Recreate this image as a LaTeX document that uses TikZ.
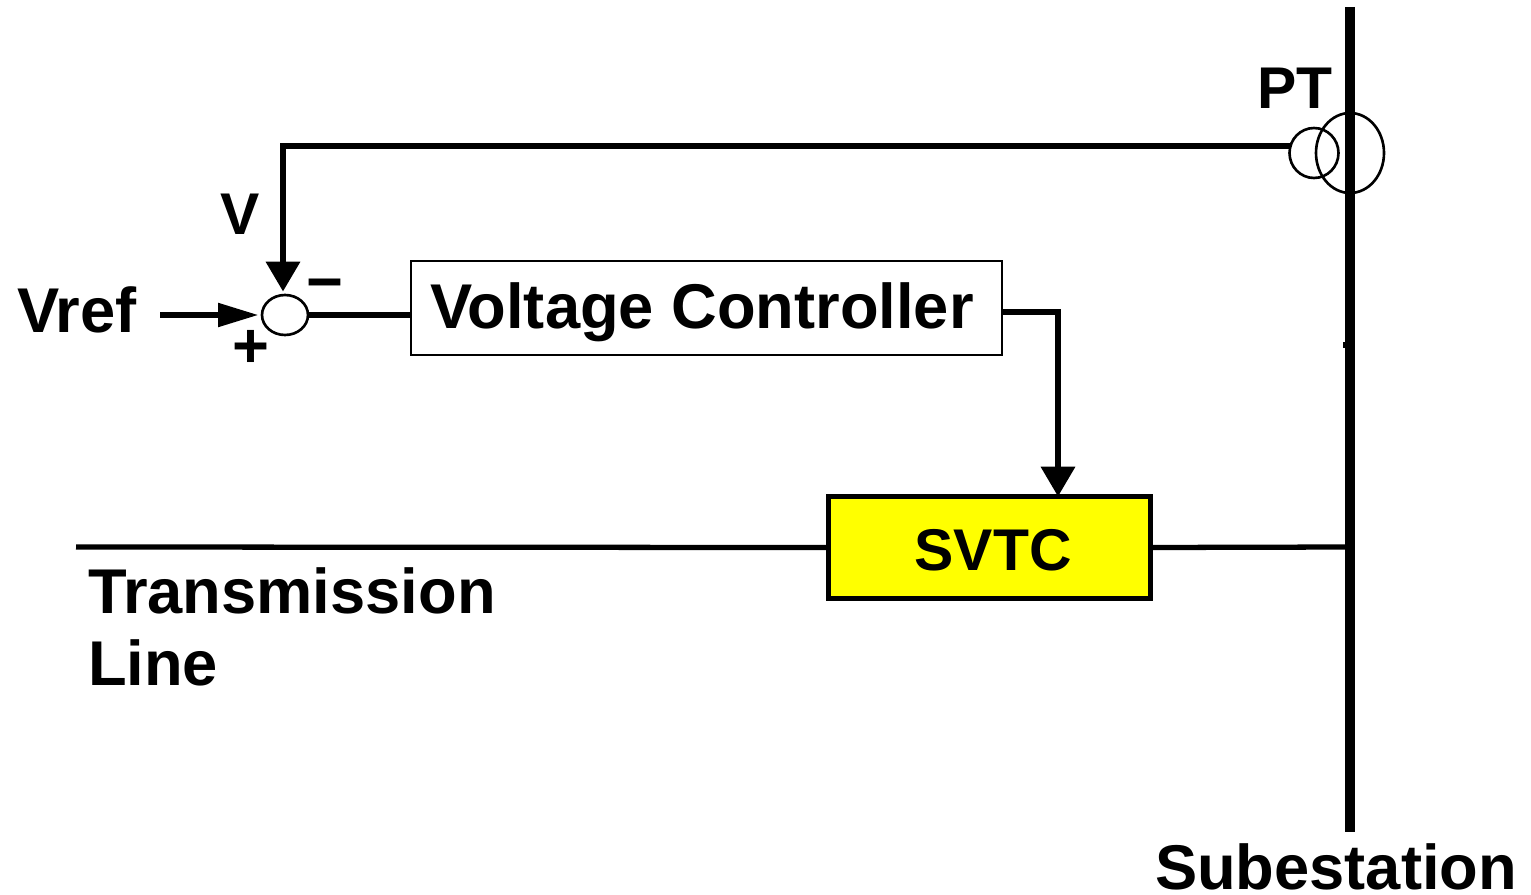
\documentclass[tikz,border=0pt]{standalone}
\usepackage{fontspec}
\setmainfont{Liberation Sans}
\usepackage{xcolor}
\usepackage{tikz}
\usetikzlibrary{arrows.meta,shapes.geometric}
\definecolor{ink}{HTML}{000000}
\definecolor{svtcfill}{HTML}{FFFF00}

\begin{document}
\begin{tikzpicture}[
  x=0.02cm, y=-0.02cm,
  every node/.style={font=\fontsize{36}{41}\selectfont\bfseries, color=ink, inner sep=0pt, outer sep=0pt},
  small/.style={font=\fontsize{33.5}{40}\selectfont\bfseries},
  block/.style={rectangle, draw=ink, line width=1.5pt, fill=white, minimum width=11.82cm, minimum height=1.88cm},
  svtcbox/.style={rectangle, draw=ink, line width=3pt, fill=svtcfill, minimum width=6.44cm, minimum height=2.04cm},
  ring/.style={ellipse, draw=ink, line width=1.5pt, fill=none},
  wire/.style={line width=3pt, draw=ink},
  signal/.style={line width=3.2pt, draw=ink, -{Triangle[length=17pt, width=19pt]}},
  refarrow/.style={line width=3.2pt, draw=ink, -{Triangle[length=23pt, width=13pt]}, shorten >=2pt},
  bus/.style={line width=5.2pt, draw=ink}
]
\useasboundingbox (0,0) rectangle (1531,895);

\coordinate (bustop) at (1350,7);
\coordinate (busend) at (1350,832);
\coordinate (bustee) at (1350,547);
\coordinate (buststub) at (1343,345);
\coordinate (linestart) at (76,547);
\coordinate (vrefstart) at (160,315);
\coordinate (pickcorner) at (283,146);
\coordinate (ctrlcorner) at (1058,312);

\node[block] (ctrl) at (706.5,308) {};
\node (ctrltext) at (702,312) {Voltage Controller};
\node[svtcbox] (svtc) at (989.5,547.5) {};
\node[small] (svtctext) at (993,550) {SVTC};
\node[ring, minimum width=0.92cm, minimum height=0.8cm] (sum) at (285,315) {};
\node[ring, minimum width=0.98cm, minimum height=1cm] (ptsmall) at (1314,153) {};
\node[ring, minimum width=1.36cm, minimum height=1.6cm] (ptbig) at (1350,153) {};

\node (vref) at (77,310) {Vref};
\node[small] (vlabel) at (240,214) {V};
\node (plus) at (251,349) {+};
\node (minus) at (325,291) {−};
\node[small] (pt) at (1295,88) {PT};
\node[align=left, anchor=north west] (tline) at (88,568) {Transmission\\Line};
\node (subst) at (1336,867) {Subestation};

\draw[bus] (bustop) -- (busend);
\draw[line width=3pt, draw=ink] (buststub) -- (bustee |- buststub);
\draw[wire] (linestart) -- (svtc.west);
\draw[wire] (svtc.east) -- (bustee);
\draw[wire] (sum.east) -- (sum.east -| ctrl.west);
\draw[refarrow] (vrefstart) -- (sum.west);
\draw[signal, shorten >=2pt] (ptsmall.west |- pickcorner) -- (pickcorner) -- (sum.north -| pickcorner);
\draw[signal] (ctrl.east |- ctrlcorner) -- (ctrlcorner) -- (svtc.north -| ctrlcorner);
\end{tikzpicture}
\end{document}
